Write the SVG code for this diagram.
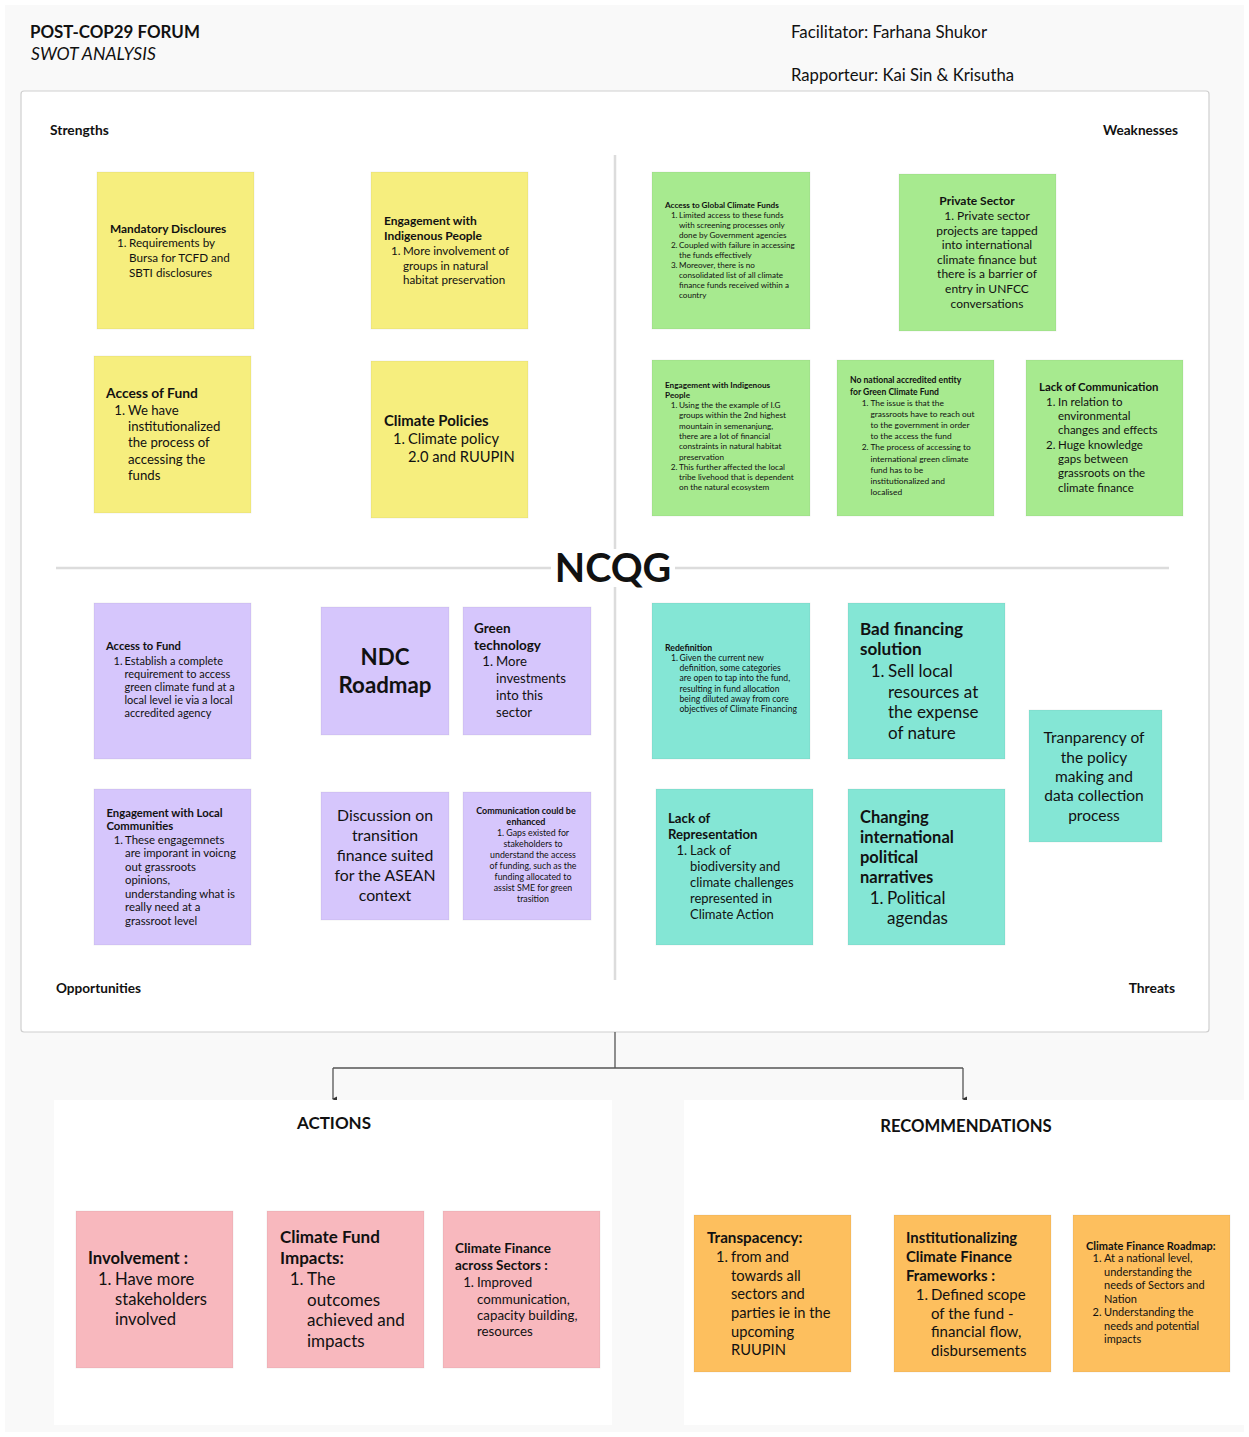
<svg xmlns="http://www.w3.org/2000/svg" width="1249" height="1437" viewBox="0 0 1249 1437">
<defs>
<style>
text{font-family:Lato,"Liberation Sans",sans-serif;fill:#111}
.b{font-weight:bold}
.i{font-style:italic}
.m{text-anchor:middle}
.e,.nu{text-anchor:end}
.y{fill:#f6ee7e}.g{fill:#a7ea8f}.p{fill:#d6c6fc}.t{fill:#84e6d5}.k{fill:#f8b8be}.o{fill:#fdbf5e}
.n{stroke:#000;stroke-opacity:.06;stroke-width:1}
.div{stroke:#dcdcdc;stroke-width:2.5;fill:none}
.con{stroke:#555;stroke-width:1.3;fill:none}
</style>
<marker id="ar" viewBox="0 0 6 6" refX="3" refY="5" markerWidth="6" markerHeight="6" orient="auto-start-reverse" markerUnits="userSpaceOnUse">
<path d="M0.5,1 L3,6 L5.5,1 Z" fill="#333"/>
</marker>
</defs>
<rect width="1249" height="1437" fill="#ffffff"/>
<rect x="5" y="5" width="1239" height="1427" fill="#f9f9f9"/>

<g id="header">
<text x="30" y="38" class="b" font-size="16.9">POST-COP29 FORUM</text>
<text x="31" y="60" class="i" font-size="17.6">SWOT ANALYSIS</text>
<text x="791" y="38" font-size="16.9">Facilitator: Farhana Shukor</text>
<text x="791" y="81" font-size="16.7">Rapporteur: Kai Sin &amp; Krisutha</text>
</g>

<g id="swot-panel">
<rect x="21" y="91" width="1188" height="941" rx="3" fill="#fff" stroke="#cfcfcf" stroke-width="1.2"/>
<line class="div" x1="615" y1="155" x2="615" y2="980"/>
<line class="div" x1="56" y1="568" x2="1169" y2="568"/>
<text x="50" y="135" class="b" font-size="13.8">Strengths</text>
<text x="1178" y="135" class="b e" font-size="13.6">Weaknesses</text>
<text x="56" y="993" class="b" font-size="13.6">Opportunities</text>
<text x="1175" y="993" class="b e" font-size="13.8">Threats</text>
<rect x="551" y="549" width="124" height="38" fill="#fff"/>
<text x="613" y="582" class="b m" font-size="39.5">NCQG</text>
</g>

<g id="s1">
<rect class="y n" x="97" y="172" width="157" height="157"/>
<text x="110" y="233" class="b" font-size="11.9">Mandatory Discloures</text>
<text x="126.5" y="247" class="nu" font-size="11.7">1.</text>
<text font-size="11.7"><tspan x="129" y="247">Requirements by</tspan><tspan x="129" y="262">Bursa for TCFD and</tspan><tspan x="129" y="277">SBTI disclosures</tspan></text>
</g>

<g id="s2">
<rect class="y n" x="371" y="172" width="157" height="157"/>
<text class="b" font-size="12"><tspan x="384" y="225">Engagement with</tspan><tspan x="384" y="240">Indigenous People</tspan></text>
<text x="400.5" y="255" class="nu" font-size="11.6">1.</text>
<text font-size="11.6"><tspan x="403" y="255">More involvement of</tspan><tspan x="403" y="270">groups in natural</tspan><tspan x="403" y="284">habitat preservation</tspan></text>
</g>

<g id="s3">
<rect class="y n" x="94" y="356" width="157" height="157"/>
<text x="106" y="398" class="b" font-size="13.8">Access of Fund</text>
<text x="125" y="415" class="nu" font-size="13.2">1.</text>
<text font-size="13.2"><tspan x="128" y="415">We have</tspan><tspan x="128" y="431">institutionalized</tspan><tspan x="128" y="447">the process of</tspan><tspan x="128" y="464">accessing the</tspan><tspan x="128" y="480">funds</tspan></text>
</g>

<g id="s4">
<rect class="y n" x="371" y="361" width="157" height="157"/>
<text x="384" y="426" class="b" font-size="14.9">Climate Policies</text>
<text x="405" y="444" class="nu" font-size="14.7">1.</text>
<text font-size="14.7"><tspan x="408" y="444">Climate policy</tspan><tspan x="408" y="462">2.0 and RUUPIN</tspan></text>
</g>

<g id="w1">
<rect class="g n" x="652" y="172" width="158" height="157"/>
<text x="665" y="208" class="b" font-size="8.2">Access to Global Climate Funds</text>
<text class="nu" font-size="8.1"><tspan x="677.5" y="218">1.</tspan><tspan x="677.5" y="248">2.</tspan><tspan x="677.5" y="268">3.</tspan></text>
<text font-size="8.1"><tspan x="679" y="218">Limited access to these funds</tspan><tspan x="679" y="228">with screening processes only</tspan><tspan x="679" y="238">done by Government agencies</tspan><tspan x="679" y="248">Coupled with failure in accessing</tspan><tspan x="679" y="258">the funds effectively</tspan><tspan x="679" y="268">Moreover, there is no</tspan><tspan x="679" y="278">consolidated list of all climate</tspan><tspan x="679" y="288">finance funds received within a</tspan><tspan x="679" y="298">country</tspan></text>
</g>

<g id="w2">
<rect class="g n" x="899" y="174" width="157" height="157"/>
<text x="977" y="205" class="b m" font-size="12">Private Sector</text>
<text class="m" font-size="12"><tspan x="987" y="220">1. Private sector</tspan><tspan x="987" y="234.5">projects are tapped</tspan><tspan x="987" y="249">into international</tspan><tspan x="987" y="263.5">climate finance but</tspan><tspan x="987" y="278">there is a barrier of</tspan><tspan x="987" y="293">entry in UNFCC</tspan><tspan x="987" y="307.5">conversations</tspan></text>
</g>

<g id="w3">
<rect class="g n" x="652" y="360" width="158" height="156"/>
<text class="b" font-size="8.2"><tspan x="665" y="387.5">Engagement with Indigenous</tspan><tspan x="665" y="397.5">People</tspan></text>
<text class="nu" font-size="8.2"><tspan x="677.5" y="408">1.</tspan><tspan x="677.5" y="469.8">2.</tspan></text>
<text font-size="8.2"><tspan x="679" y="408">Using the the example of I.G</tspan><tspan x="679" y="418.3">groups within the 2nd highest</tspan><tspan x="679" y="428.6">mountain in semenanjung,</tspan><tspan x="679" y="438.9">there are a lot of financial</tspan><tspan x="679" y="449.2">constraints in natural habitat</tspan><tspan x="679" y="459.5">preservation</tspan><tspan x="679" y="469.8">This further affected the local</tspan><tspan x="679" y="480.1">tribe livehood that is dependent</tspan><tspan x="679" y="490.4">on the natural ecosystem</tspan></text>
</g>

<g id="w4">
<rect class="g n" x="837" y="360" width="157" height="156"/>
<text class="b" font-size="8.6"><tspan x="850" y="383">No national accredited entity</tspan><tspan x="850" y="394.5">for Green Climate Fund</tspan></text>
<text class="nu" font-size="8.4"><tspan x="868.5" y="405.5">1.</tspan><tspan x="868.5" y="450.3">2.</tspan></text>
<text font-size="8.4"><tspan x="870.5" y="405.5">The issue is that the</tspan><tspan x="870.5" y="416.7">grassroots have to reach out</tspan><tspan x="870.5" y="427.9">to the government in order</tspan><tspan x="870.5" y="439.1">to the access the fund</tspan><tspan x="870.5" y="450.3">The process of accessing to</tspan><tspan x="870.5" y="461.5">international green climate</tspan><tspan x="870.5" y="472.7">fund has to be</tspan><tspan x="870.5" y="483.9">institutionalized and</tspan><tspan x="870.5" y="495.1">localised</tspan></text>
</g>

<g id="w5">
<rect class="g n" x="1026" y="360" width="157" height="156"/>
<text x="1039" y="391" class="b" font-size="11.4">Lack of Communication</text>
<text class="nu" font-size="11.5"><tspan x="1055.5" y="405.5">1.</tspan><tspan x="1055.5" y="448.7">2.</tspan></text>
<text font-size="11.5"><tspan x="1058" y="405.5">In relation to</tspan><tspan x="1058" y="420">environmental</tspan><tspan x="1058" y="434.3">changes and effects</tspan><tspan x="1058" y="448.7">Huge knowledge</tspan><tspan x="1058" y="463">gaps between</tspan><tspan x="1058" y="477.3">grassroots on the</tspan><tspan x="1058" y="491.6">climate finance</tspan></text>
</g>

<g id="o1">
<rect class="p n" x="94" y="603" width="157" height="156"/>
<text x="106" y="650" class="b" font-size="11.2">Access to Fund</text>
<text x="122.5" y="664.5" class="nu" font-size="11">1.</text>
<text font-size="11"><tspan x="124.5" y="664.5">Establish a complete</tspan><tspan x="124.5" y="677.5">requirement to access</tspan><tspan x="124.5" y="690.5">green climate fund at a</tspan><tspan x="124.5" y="703.5">local level ie via a local</tspan><tspan x="124.5" y="716.5">accredited agency</tspan></text>
</g>

<g id="o2">
<rect class="p n" x="321" y="607" width="128" height="128"/>
<text class="b m" font-size="22.3"><tspan x="385" y="665">NDC</tspan><tspan x="385" y="693">Roadmap</tspan></text>
</g>

<g id="o3">
<rect class="p n" x="463" y="607" width="128" height="128"/>
<text class="b" font-size="13.5"><tspan x="474" y="633">Green</tspan><tspan x="474" y="650">technology</tspan></text>
<text x="493" y="666" class="nu" font-size="13.2">1.</text>
<text font-size="13.2"><tspan x="496" y="666">More</tspan><tspan x="496" y="683">investments</tspan><tspan x="496" y="700">into this</tspan><tspan x="496" y="717">sector</tspan></text>
</g>

<g id="o4">
<rect class="p n" x="94" y="789" width="157" height="156"/>
<text class="b" font-size="11.3"><tspan x="106.5" y="816.5">Engagement with Local</tspan><tspan x="106.5" y="829.5">Communities</tspan></text>
<text x="123" y="843.5" class="nu" font-size="11.4">1.</text>
<text font-size="11.4"><tspan x="125" y="843.5">These engagemnets</tspan><tspan x="125" y="857">are imporant in voicng</tspan><tspan x="125" y="870.5">out grassroots</tspan><tspan x="125" y="884">opinions,</tspan><tspan x="125" y="897.5">understanding what is</tspan><tspan x="125" y="911">really need at a</tspan><tspan x="125" y="924.5">grassroot level</tspan></text>
</g>

<g id="o5">
<rect class="p n" x="321" y="792" width="128" height="128"/>
<text class="m" font-size="15.8"><tspan x="385" y="821">Discussion on</tspan><tspan x="385" y="841">transition</tspan><tspan x="385" y="861">finance suited</tspan><tspan x="385" y="881">for the ASEAN</tspan><tspan x="385" y="901">context</tspan></text>
</g>

<g id="o6">
<rect class="p n" x="463" y="792" width="128" height="128"/>
<text class="b m" font-size="9"><tspan x="526" y="814">Communication could be</tspan><tspan x="526" y="824.5">enhanced</tspan></text>
<text class="m" font-size="8.8"><tspan x="533" y="835.5">1. Gaps existed for</tspan><tspan x="533" y="846.5">stakeholders to</tspan><tspan x="533" y="857.5">understand the access</tspan><tspan x="533" y="868.5">of funding, such as the</tspan><tspan x="533" y="879.5">funding allocated to</tspan><tspan x="533" y="890.5">assist SME for green</tspan><tspan x="533" y="901.5">trasition</tspan></text>
</g>

<g id="t1">
<rect class="t n" x="652" y="603" width="158" height="156"/>
<text x="665" y="650.5" class="b" font-size="8.7">Redefinition</text>
<text x="678" y="660.8" class="nu" font-size="8.6">1.</text>
<text font-size="8.6"><tspan x="679.5" y="660.8">Given the current new</tspan><tspan x="679.5" y="671.1">definition, some categories</tspan><tspan x="679.5" y="681.4">are open to tap into the fund,</tspan><tspan x="679.5" y="691.7">resulting in fund allocation</tspan><tspan x="679.5" y="702">being diluted away from core</tspan><tspan x="679.5" y="712.3">objectives of Climate Financing</tspan></text>
</g>

<g id="t2">
<rect class="t n" x="848" y="603" width="157" height="156"/>
<text class="b" font-size="17.1"><tspan x="860" y="635">Bad financing</tspan><tspan x="860" y="655">solution</tspan></text>
<text x="884.5" y="677" class="nu" font-size="17">1.</text>
<text font-size="17"><tspan x="888" y="677">Sell local</tspan><tspan x="888" y="697.5">resources at</tspan><tspan x="888" y="718">the expense</tspan><tspan x="888" y="738.5">of nature</tspan></text>
</g>

<g id="t3">
<rect class="t n" x="1029" y="710" width="133" height="132"/>
<text class="m" font-size="15.5"><tspan x="1094" y="743">Tranparency of</tspan><tspan x="1094" y="762.5">the policy</tspan><tspan x="1094" y="782">making and</tspan><tspan x="1094" y="801">data collection</tspan><tspan x="1094" y="820.5">process</tspan></text>
</g>

<g id="t4">
<rect class="t n" x="656" y="789" width="157" height="156"/>
<text class="b" font-size="13.2"><tspan x="668" y="823">Lack of</tspan><tspan x="668" y="839">Representation</tspan></text>
<text x="687" y="855" class="nu" font-size="13">1.</text>
<text font-size="13"><tspan x="690" y="855">Lack of</tspan><tspan x="690" y="871">biodiversity and</tspan><tspan x="690" y="887">climate challenges</tspan><tspan x="690" y="903">represented in</tspan><tspan x="690" y="919">Climate Action</tspan></text>
</g>

<g id="t5">
<rect class="t n" x="848" y="789" width="157" height="156"/>
<text class="b" font-size="16.5"><tspan x="860" y="823">Changing</tspan><tspan x="860" y="843">international</tspan><tspan x="860" y="863">political</tspan><tspan x="860" y="883">narratives</tspan></text>
<text x="883.5" y="904" class="nu" font-size="17">1.</text>
<text font-size="17"><tspan x="887" y="904">Political</tspan><tspan x="887" y="924">agendas</tspan></text>
</g>

<g id="connectors">
<path class="con" d="M615,1032 V1068"/>
<path class="con" d="M333,1068 H963"/>
<path class="con" d="M333,1068 V1099" marker-end="url(#ar)"/>
<path class="con" d="M963,1068 V1099" marker-end="url(#ar)"/>
</g>

<g id="actions">
<rect x="54" y="1100" width="558" height="325" fill="#fff"/>
<text x="334" y="1129" class="b m" font-size="17">ACTIONS</text>
</g>

<g id="recommendations">
<rect x="684" y="1100" width="560" height="325" fill="#fff"/>
<text x="966" y="1132" class="b m" font-size="16.7">RECOMMENDATIONS</text>
</g>

<g id="a1">
<rect class="k n" x="76" y="1211" width="157" height="157"/>
<text x="88" y="1264" class="b" font-size="16.6">Involvement :</text>
<text x="111.5" y="1285" class="nu" font-size="16.6">1.</text>
<text font-size="16.6"><tspan x="115" y="1285">Have more</tspan><tspan x="115" y="1305">stakeholders</tspan><tspan x="115" y="1325">involved</tspan></text>
</g>

<g id="a2">
<rect class="k n" x="267" y="1211" width="157" height="157"/>
<text class="b" font-size="17"><tspan x="280" y="1243">Climate Fund</tspan><tspan x="280" y="1264">Impacts:</tspan></text>
<text x="303.5" y="1285" class="nu" font-size="17">1.</text>
<text font-size="17"><tspan x="307" y="1285">The</tspan><tspan x="307" y="1306">outcomes</tspan><tspan x="307" y="1326">achieved and</tspan><tspan x="307" y="1347">impacts</tspan></text>
</g>

<g id="a3">
<rect class="k n" x="443" y="1211" width="157" height="157"/>
<text class="b" font-size="13.5"><tspan x="455" y="1253">Climate Finance</tspan><tspan x="455" y="1269.5">across Sectors :</tspan></text>
<text x="474" y="1287" class="nu" font-size="13.3">1.</text>
<text font-size="13.3"><tspan x="477" y="1287">Improved</tspan><tspan x="477" y="1303.5">communication,</tspan><tspan x="477" y="1320">capacity building,</tspan><tspan x="477" y="1336">resources</tspan></text>
</g>

<g id="r1">
<rect class="o n" x="694" y="1215" width="157" height="157"/>
<text x="707" y="1243" class="b" font-size="15.2">Transpacency:</text>
<text x="728" y="1262" class="nu" font-size="14.7">1.</text>
<text font-size="14.7"><tspan x="731" y="1262">from and</tspan><tspan x="731" y="1280.5">towards all</tspan><tspan x="731" y="1299">sectors and</tspan><tspan x="731" y="1318">parties ie in the</tspan><tspan x="731" y="1336.5">upcoming</tspan><tspan x="731" y="1355">RUUPIN</tspan></text>
</g>

<g id="r2">
<rect class="o n" x="894" y="1215" width="157" height="157"/>
<text class="b" font-size="14.9"><tspan x="906" y="1243">Institutionalizing</tspan><tspan x="906" y="1262">Climate Finance</tspan><tspan x="906" y="1281">Frameworks :</tspan></text>
<text x="928" y="1300" class="nu" font-size="15">1.</text>
<text font-size="15"><tspan x="931" y="1300">Defined scope</tspan><tspan x="931" y="1318.5">of the fund -</tspan><tspan x="931" y="1337">financial flow,</tspan><tspan x="931" y="1355.5">disbursements</tspan></text>
</g>

<g id="r3">
<rect class="o n" x="1073" y="1215" width="157" height="157"/>
<text x="1086" y="1249.5" class="b" font-size="11">Climate Finance Roadmap:</text>
<text class="nu" font-size="11"><tspan x="1101.5" y="1262">1.</tspan><tspan x="1101.5" y="1316">2.</tspan></text>
<text font-size="11"><tspan x="1104" y="1262">At a national level,</tspan><tspan x="1104" y="1275.5">understanding the</tspan><tspan x="1104" y="1289">needs of Sectors and</tspan><tspan x="1104" y="1302.5">Nation</tspan><tspan x="1104" y="1316">Understanding the</tspan><tspan x="1104" y="1329.5">needs and potential</tspan><tspan x="1104" y="1343">impacts</tspan></text>
</g>
</svg>
